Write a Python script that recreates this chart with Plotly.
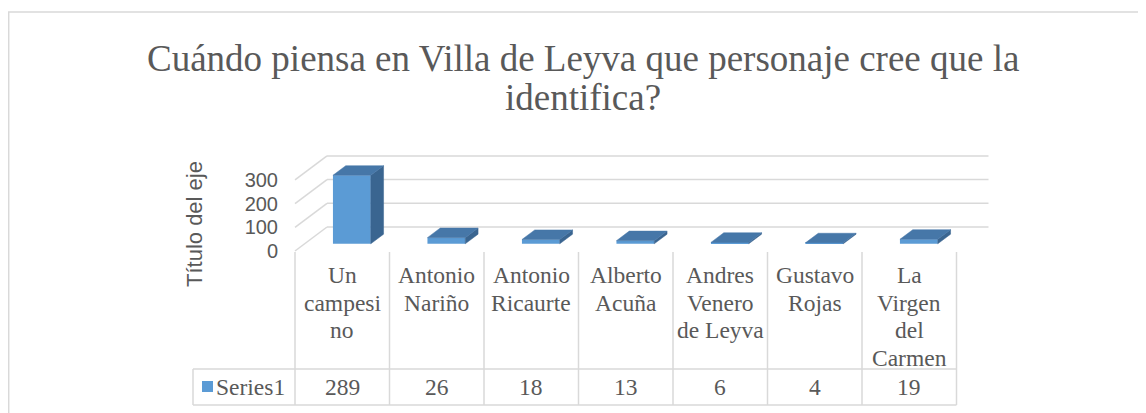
import plotly.graph_objects as go

# ---------------- data ----------------
categories = ["Un campesino", "Antonio Nariño", "Antonio Ricaurte", "Alberto Acuña",
              "Andres Venero de Leyva", "Gustavo Rojas", "La Virgen del Carmen"]
category_labels = ["Un<br>campesi<br>no", "Antonio<br>Nariño", "Antonio<br>Ricaurte",
                   "Alberto<br>Acuña", "Andres<br>Venero<br>de Leyva", "Gustavo<br>Rojas",
                   "La<br>Virgen<br>del<br>Carmen"]
values = [289, 26, 18, 13, 6, 4, 19]
series_name = "Series1"
y_ticks = [0, 100, 200, 300]
title_lines = ["Cuándo piensa en Villa de Leyva que personaje cree que la", "identifica?"]
axis_title = "Título del eje"

# ---------------- layout geometry (in screen pixels) ----------------
OFF = 8                # page body margin offset
W, H = 1146 - OFF, 413 - OFF
X0_PX = 295.0 - OFF    # left edge of category area
CAT_PX = 94.5          # pixels per category
Y0_PX = 251.0 - OFF    # front floor line
PY = 0.237             # pixels per value unit
DX = 32.0 / CAT_PX     # depth offset in x units
DY = 24.0 / PY         # depth offset in y units
F1, F2 = 0.30, 0.70    # bar depth fractions (front / back)
BW = 0.40              # bar width in category units
n = len(values)

TEXT = "#595959"
GRID = "#d9d9d9"
FRONT = "#5b9bd5"
TOP = "#4677a8"
SIDE = "#3a6590"


def px(x):
    return (x - OFF) / W


def py(y):
    return 1 - (y - OFF) / H


fig = go.Figure()
shapes = []
annotations = []

# back wall + side wall gridlines (below the bars)
for v in y_ticks:
    shapes.append(dict(type="line", xref="x", yref="y", x0=0, y0=v, x1=DX, y1=DY + v,
                       layer="below", line=dict(color=GRID, width=1.5)))
    shapes.append(dict(type="line", xref="x", yref="y", x0=DX, y0=DY + v, x1=n + DX, y1=DY + v,
                       layer="below", line=dict(color=GRID, width=1.5)))

# bars: front faces via bar trace
cx = [i + 0.5 for i in range(n)]
fig.add_trace(go.Bar(x=[c + F1 * DX for c in cx], y=values, base=F1 * DY, width=BW,
                     marker=dict(color=FRONT, line=dict(width=0)), name=series_name,
                     showlegend=False))

# top and side faces
for c, v in zip(cx, values):
    xl, xr = c - BW / 2, c + BW / 2
    b1, b2 = F1 * DY, F2 * DY
    fig.add_trace(go.Scatter(
        x=[xr + F1 * DX, xr + F2 * DX, xr + F2 * DX, xr + F1 * DX, xr + F1 * DX],
        y=[b1, b2, b2 + v, b1 + v, b1], fill="toself", fillcolor=SIDE, mode="lines",
        line=dict(color=SIDE, width=0.5), hoverinfo="skip", showlegend=False))
    fig.add_trace(go.Scatter(
        x=[xl + F1 * DX, xr + F1 * DX, xr + F2 * DX, xl + F2 * DX, xl + F1 * DX],
        y=[b1 + v, b1 + v, b2 + v, b2 + v, b1 + v], fill="toself", fillcolor=TOP,
        mode="lines", line=dict(color=TOP, width=0.5), hoverinfo="skip", showlegend=False))

# outer chart frame
shapes.append(dict(type="rect", xref="paper", yref="paper", x0=px(8.7), x1=px(1170),
                   y0=py(12), y1=py(440), line=dict(color=GRID, width=1.5)))

# data table grid
table_right = 295.0 + n * CAT_PX
for i in range(n + 1):
    shapes.append(dict(type="line", xref="x", yref="paper", x0=i, x1=i,
                       y0=py(252), y1=py(405), line=dict(color=GRID, width=1.5)))
for yy in (369, 405):
    shapes.append(dict(type="line", xref="paper", yref="paper", x0=px(193), x1=px(table_right),
                       y0=py(yy), y1=py(yy), line=dict(color=GRID, width=1.5)))
shapes.append(dict(type="line", xref="paper", yref="paper", x0=px(193), x1=px(193),
                   y0=py(369), y1=py(405), line=dict(color=GRID, width=1.5)))
# legend key
shapes.append(dict(type="rect", xref="paper", yref="paper", x0=px(202), x1=px(213),
                   y0=py(392), y1=py(381), fillcolor=FRONT, line=dict(width=0)))

serif = "Liberation Serif, Times New Roman, serif"
sans = "Liberation Sans, Arial, sans-serif"

# category labels (line by line)
for i, lab in enumerate(category_labels):
    for j, line in enumerate(lab.split("<br>")):
        annotations.append(dict(text=line, xref="x", yref="paper", x=i + 0.5, y=py(275 + 27.5 * j),
                                xanchor="center", yanchor="middle", showarrow=False,
                                font=dict(family=serif, size=23.5, color=TEXT)))
# values row
for i, v in enumerate(values):
    annotations.append(dict(text=str(v), xref="x", yref="paper", x=i + 0.5, y=py(387),
                            xanchor="center", yanchor="middle", showarrow=False,
                            font=dict(family=serif, size=23.5, color=TEXT)))
annotations.append(dict(text=series_name, xref="paper", yref="paper", x=px(214), y=py(387),
                        xanchor="left", yanchor="middle", showarrow=False,
                        font=dict(family=serif, size=23.5, color=TEXT)))

# title lines
for j, t in enumerate(title_lines):
    annotations.append(dict(text=t, xref="paper", yref="paper", x=px(583), y=py(59 + 38 * j),
                            xanchor="center", yanchor="middle", showarrow=False,
                            font=dict(family=serif, size=37, color=TEXT)))

# axis title
annotations.append(dict(text=axis_title, xref="paper", yref="paper", x=px(194), y=py(224),
                        xanchor="center", yanchor="middle", textangle=-90, showarrow=False,
                        font=dict(family=sans, size=22, color=TEXT)))

fig.update_layout(
    width=W, height=H, autosize=False,
    margin=dict(l=0, r=0, t=0, b=0, pad=0),
    paper_bgcolor="white", plot_bgcolor="white",
    showlegend=False,
    shapes=shapes, annotations=annotations,
    xaxis=dict(range=[-X0_PX / CAT_PX, (W - X0_PX) / CAT_PX], domain=[0, 1], visible=False,
               fixedrange=True),
    yaxis=dict(range=[(Y0_PX - H) / PY, Y0_PX / PY], domain=[0, 1], anchor="free",
               position=px(278), tickvals=y_ticks, ticks="", showgrid=False, zeroline=False,
               showline=False, tickfont=dict(family=sans, size=20, color=TEXT), fixedrange=True),
)

fig.write_html("out.html")
